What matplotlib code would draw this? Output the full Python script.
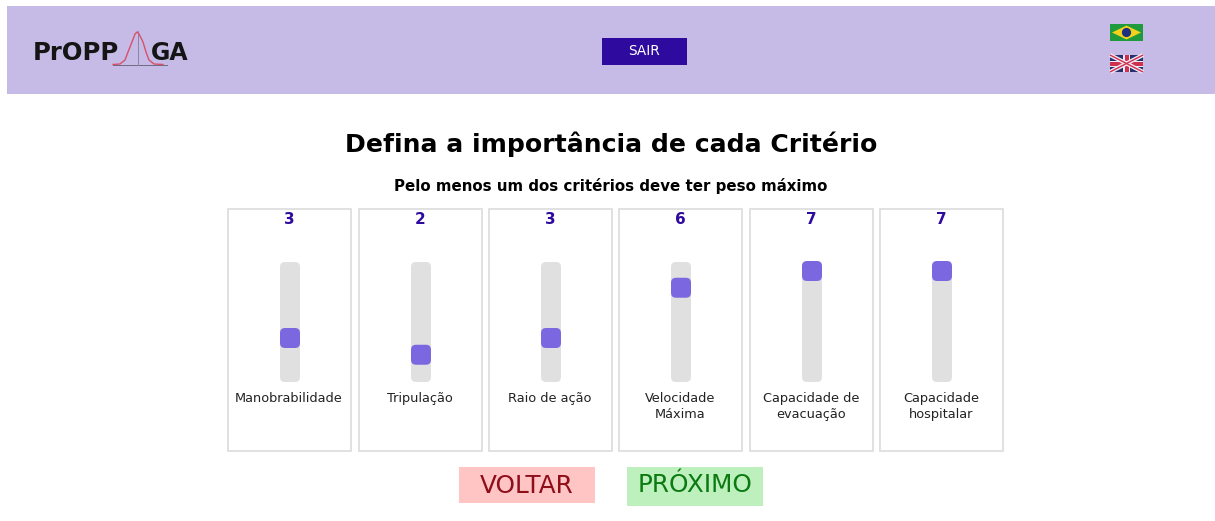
import matplotlib
matplotlib.use("Agg")
import matplotlib.pyplot as plt
from matplotlib.patches import Rectangle, FancyBboxPatch, Polygon, Circle

W, H = 1215, 521
criteria = ["Manobrabilidade", "Tripulação", "Raio de ação", "Velocidade\nMáxima",
            "Capacidade de\nevacuação", "Capacidade\nhospitalar"]
weights = [3, 2, 3, 6, 7, 7]
title = "Defina a importância de cada Critério"
subtitle = "Pelo menos um dos critérios deve ter peso máximo"

card_left = [228, 359, 489, 619, 750, 880]
PURPLE = "#2f0a9e"
THUMB = "#7b68e0"

plt.rcParams["font.family"] = "DejaVu Sans"
fig = plt.figure(figsize=(W / 100, H / 100), dpi=100)
ax = fig.add_axes([0, 0, 1, 1])
ax.set_xlim(0, W)
ax.set_ylim(H, 0)
ax.axis("off")

# header
ax.add_patch(Rectangle((7, 6), W - 7, 87.5, fc="#c5bbe6", ec="none"))
ax.add_patch(Rectangle((602, 38), 85, 27, fc=PURPLE, ec="none"))
ax.text(644, 51, "SAIR", color="white", fontsize=9.8, ha="center", va="center")

# logo
ax.text(33, 52.5, "PrOPP", fontsize=17.5, fontweight="bold", color="#151515", ha="left", va="center")
ax.text(151, 52.5, "GA", fontsize=17, fontweight="bold", color="#151515", ha="left", va="center")
logo_x = [113, 120, 125, 128, 132, 135, 137, 139, 143, 146, 149, 154, 163]
logo_y = [64.5, 64, 60, 52, 42, 34, 32, 34, 42, 52, 60, 64, 64.5]
ax.plot([113, 167], [64.5, 64.5], color="#6f6a80", lw=0.7)
ax.plot([137.5, 137.5], [31, 64.5], color="#8a85a0", lw=0.7)
ax.plot(logo_x, logo_y, color="#d8506a", lw=1)

# Brazil flag
ax.add_patch(Rectangle((1110, 24), 33, 17, fc="#1f9a3c", ec="none"))
ax.add_patch(Polygon([(1112, 32.5), (1126.5, 25.5), (1141, 32.5), (1126.5, 39.5)], fc="#f2d21a", ec="none"))
ax.add_patch(Circle((1126.5, 32.5), 4.6, fc="#1c2f80", ec="none"))

# UK flag
ax.add_patch(Rectangle((1110, 55), 33, 17, fc="#26306e", ec="none"))
ax.plot([1110, 1143], [55, 72], color="#f0e8f0", lw=3, solid_capstyle="butt")
ax.plot([1110, 1143], [72, 55], color="#f0e8f0", lw=3, solid_capstyle="butt")
ax.plot([1110, 1143], [55, 72], color="#d03050", lw=1, solid_capstyle="butt")
ax.plot([1110, 1143], [72, 55], color="#d03050", lw=1, solid_capstyle="butt")
ax.add_patch(Rectangle((1123, 55), 7, 17, fc="#f0e8f0", ec="none"))
ax.add_patch(Rectangle((1110, 60.5), 33, 6, fc="#f0e8f0", ec="none"))
ax.add_patch(Rectangle((1124.5, 55), 4, 17, fc="#d03050", ec="none"))
ax.add_patch(Rectangle((1110, 61.5), 33, 4, fc="#d03050", ec="none"))

# headings
ax.text(611, 144, title, fontsize=18.1, fontweight="bold", color="black", ha="center", va="center")
ax.text(611, 186, subtitle, fontsize=10.8, fontweight="bold", color="black", ha="center", va="center")

# cards and sliders
TRACK_TOP, TRACK_H, TRACK_W = 262, 120, 20
PX_PER_UNIT = 16.75
VALUE_AT_TOP = 7 + 9 / PX_PER_UNIT
for left, name, val in zip(card_left, criteria, weights):
    ax.add_patch(Rectangle((left, 209), 122.5, 242, fc="white", ec="#dedede", lw=1.3))
    cx = left + 61.5
    ax.text(cx - 0.5, 219.5, str(val), color=PURPLE, fontsize=11, fontweight="bold",
            ha="center", va="center")
    ax.text(cx - 0.5, 392, name, color="#222222", fontsize=9.3, ha="center", va="top", linespacing=1.27)

    s = fig.add_axes([(cx + 0.5 - TRACK_W / 2) / W, 1 - (TRACK_TOP + TRACK_H) / H, TRACK_W / W, TRACK_H / H])
    s.set_xlim(0, TRACK_W)
    s.set_ylim(VALUE_AT_TOP - TRACK_H / PX_PER_UNIT, VALUE_AT_TOP)
    s.axis("off")
    asp = 1 / PX_PER_UNIT
    y0 = VALUE_AT_TOP - TRACK_H / PX_PER_UNIT
    s.add_patch(FancyBboxPatch((0, y0), TRACK_W, TRACK_H * asp, boxstyle="round,pad=0,rounding_size=5",
                               mutation_aspect=asp, fc="#e0e0e0", ec="none", clip_on=False))
    s.add_patch(FancyBboxPatch((0, val - 10 * asp), TRACK_W, 20 * asp,
                               boxstyle="round,pad=0,rounding_size=5",
                               mutation_aspect=asp, fc=THUMB, ec="none", clip_on=False))

# buttons
ax.add_patch(Rectangle((459, 467), 136, 36, fc="#ffc4c4", ec="none"))
ax.text(526.5, 486, "VOLTAR", color="#8e0f1a", fontsize=17.8, ha="center", va="center")
ax.add_patch(Rectangle((627, 467), 136, 39, fc="#bdf0bd", ec="none"))
ax.text(695, 484.5, "PRÓXIMO", color="#0c7a12", fontsize=17.8, ha="center", va="center")

fig.savefig("out.png", dpi=100, facecolor="white")
